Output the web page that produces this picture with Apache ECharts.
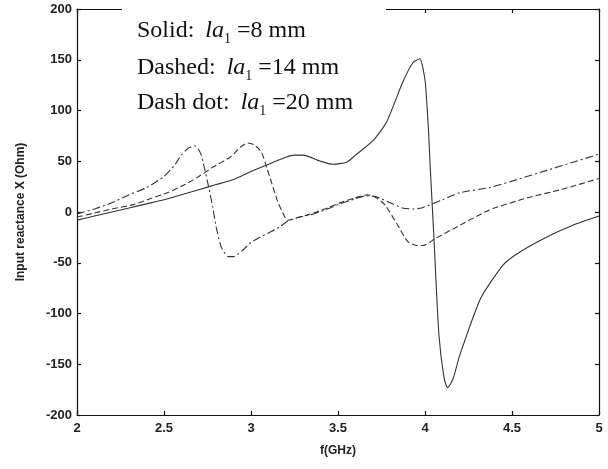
<!DOCTYPE html>
<html>
<head>
<meta charset="utf-8">
<script src="https://cdn.jsdelivr.net/npm/echarts@6/dist/echarts.min.js"></script>
<style>
  html, body { margin: 0; padding: 0; background: #fff; }
  #chart { width: 608px; height: 469px; }
</style>
</head>
<body>
<div id="chart"></div>
<script>
// 横轴刻度 (GHz) 和纵轴刻度 (Ohm)
const xTicks = [2, 2.5, 3, 3.5, 4, 4.5, 5];
const yTicks = [-200, -150, -100, -50, 0, 50, 100, 150, 200];

// Solid: la1 = 8 mm
const freqSolid = [2.0, 2.1, 2.2, 2.3, 2.4, 2.5, 2.6, 2.7, 2.8, 2.9, 3.0, 3.1, 3.2, 3.25, 3.3, 3.4, 3.47, 3.55, 3.6, 3.7, 3.78, 3.87, 3.93, 3.97, 4.0, 4.02, 4.03, 4.05, 4.08, 4.11, 4.13, 4.16, 4.2, 4.32, 4.45, 4.55, 4.72, 4.85, 5.0];
const xSolid = [-8, -4, 0, 4, 8, 12, 17, 22, 27, 32, 40, 47, 54, 56, 56, 50, 47, 49, 56, 70, 89, 127, 147, 151, 130, 81, 44, -21, -121, -164, -173, -165, -141, -85, -52, -39, -23, -13, -4];

// Dashed: la1 = 14 mm
const freqDashed = [2.0, 2.1, 2.2, 2.32, 2.42, 2.52, 2.62, 2.7, 2.78, 2.88, 2.94, 2.98, 3.02, 3.06, 3.09, 3.12, 3.15, 3.18, 3.21, 3.28, 3.36, 3.44, 3.51, 3.6, 3.67, 3.72, 3.77, 3.84, 3.9, 3.95, 3.99, 4.06, 4.18, 4.37, 4.59, 4.78, 5.0];
const xDashed = [-5, -1, 3, 7, 13, 19, 27, 35, 44, 54, 64, 68, 66, 59, 44, 28, 12, 0, -8, -5, -1, 4, 9, 14, 17, 14, 7, -12, -29, -33, -33, -26, -15, 2, 14, 22, 33];

// Dash dot: la1 = 20 mm
const freqDashDot = [2.0, 2.1, 2.2, 2.3, 2.4, 2.5, 2.56, 2.6, 2.64, 2.68, 2.71, 2.73, 2.75, 2.78, 2.8, 2.83, 2.87, 2.9, 2.95, 3.0, 3.06, 3.12, 3.17, 3.21, 3.28, 3.36, 3.44, 3.51, 3.6, 3.66, 3.72, 3.8, 3.87, 3.93, 3.98, 4.1, 4.2, 4.37, 4.53, 4.7, 4.85, 5.0];
const xDashDot = [-2, 3, 9, 17, 24, 35, 46, 56, 63, 65, 58, 45, 30, 5, -15, -35, -44, -44, -38, -30, -24, -19, -14, -9, -5, -2, 3, 8, 13, 16, 15, 9, 4, 3, 4, 12, 19, 24, 32, 41, 49, 57];

const pairs = (xs, ys) => xs.map((v, i) => [v, ys[i]]);

const chart = echarts.init(document.getElementById('chart'), null, { renderer: 'canvas' });

const axisFont = { fontFamily: 'Liberation Sans', fontSize: 13, fontWeight: 'bold', color: '#222' };
const lineStyle = { color: '#111', width: 1.2 };

const serif = 'Liberation Serif';
// 下标 1 用 bottom 对齐，主文字行高放大，下标就会往下沉
const rich = {
  n: { fontFamily: serif, fontSize: 24, lineHeight: 30, fill: '#111' },
  i: { fontFamily: serif, fontSize: 24, lineHeight: 30, fontStyle: 'italic', fill: '#111', padding: [0, 0, 0, 5] },
  s: { fontFamily: serif, fontSize: 14, lineHeight: 14, fill: '#111', verticalAlign: 'bottom', padding: [0, 6, 0, 0] }
};

const option = {
  animation: false,
  backgroundColor: '#fff',
  grid: { left: 77, right: 9, top: 9, bottom: 54 },
  xAxis: [
    {
      type: 'value', min: 2, max: 5, interval: 0.5,
      name: 'f(GHz)', nameLocation: 'middle', nameGap: 30,
      nameTextStyle: { fontFamily: 'Liberation Sans', fontSize: 12, fontWeight: 'bold', color: '#222' },
      axisLine: { show: true, onZero: false, lineStyle: lineStyle },
      axisTick: { inside: true, length: 4, lineStyle: lineStyle },
      axisLabel: Object.assign({ margin: 7, formatter: v => xTicks.includes(v) ? String(v) : '' }, axisFont),
      splitLine: { show: false }
    },
    {
      type: 'value', min: 2, max: 5, interval: 0.5, position: 'top',
      axisLine: { show: true, onZero: false, lineStyle: lineStyle },
      axisTick: { inside: true, length: 4, lineStyle: lineStyle },
      axisLabel: { show: false },
      splitLine: { show: false }
    }
  ],
  yAxis: [
    {
      type: 'value', min: -200, max: 200, interval: 50,
      name: 'Input reactance X (Ohm)', nameLocation: 'middle', nameGap: 50, nameRotate: 90,
      nameTextStyle: { fontFamily: 'Liberation Sans', fontSize: 12, fontWeight: 'bold', color: '#222' },
      axisLine: { show: true, onZero: false, lineStyle: lineStyle },
      axisTick: { inside: true, length: 4, lineStyle: lineStyle },
      axisLabel: Object.assign({ margin: 5, formatter: v => yTicks.includes(v) ? String(v) : '' }, axisFont),
      splitLine: { show: false }
    },
    {
      type: 'value', min: -200, max: 200, interval: 50, position: 'right',
      axisLine: { show: true, onZero: false, lineStyle: lineStyle },
      axisTick: { inside: true, length: 4, lineStyle: lineStyle },
      axisLabel: { show: false },
      splitLine: { show: false }
    }
  ],
  series: [
    {
      name: 'Solid', type: 'line', xAxisIndex: 0, yAxisIndex: 0, showSymbol: false, smooth: 0.2,
      lineStyle: { color: '#333', width: 1.1, type: 'solid' },
      data: pairs(freqSolid, xSolid)
    },
    {
      name: 'Dashed', type: 'line', xAxisIndex: 0, yAxisIndex: 0, showSymbol: false, smooth: 0.2,
      lineStyle: { color: '#333', width: 1.1, type: [6, 3] },
      data: pairs(freqDashed, xDashed)
    },
    {
      name: 'Dash dot', type: 'line', xAxisIndex: 0, yAxisIndex: 0, showSymbol: false, smooth: 0.2,
      lineStyle: { color: '#333', width: 1.1, type: [8, 3, 2, 3] },
      data: pairs(freqDashDot, xDashDot)
    }
  ],
  graphic: [
    { type: 'rect', z: 100, shape: { x: 122, y: 0, width: 264, height: 14 }, style: { fill: '#fff' } },
    { type: 'text', z: 101, x: 137, y: 16, style: { text: '{n|Solid: }{i|la}{s|1}{n|=8 mm}', rich: rich } },
    { type: 'text', z: 101, x: 137, y: 53, style: { text: '{n|Dashed: }{i|la}{s|1}{n|=14 mm}', rich: rich } },
    { type: 'text', z: 101, x: 137, y: 88, style: { text: '{n|Dash dot: }{i|la}{s|1}{n|=20 mm}', rich: rich } }
  ]
};

chart.setOption(option);
</script>
</body>
</html>
